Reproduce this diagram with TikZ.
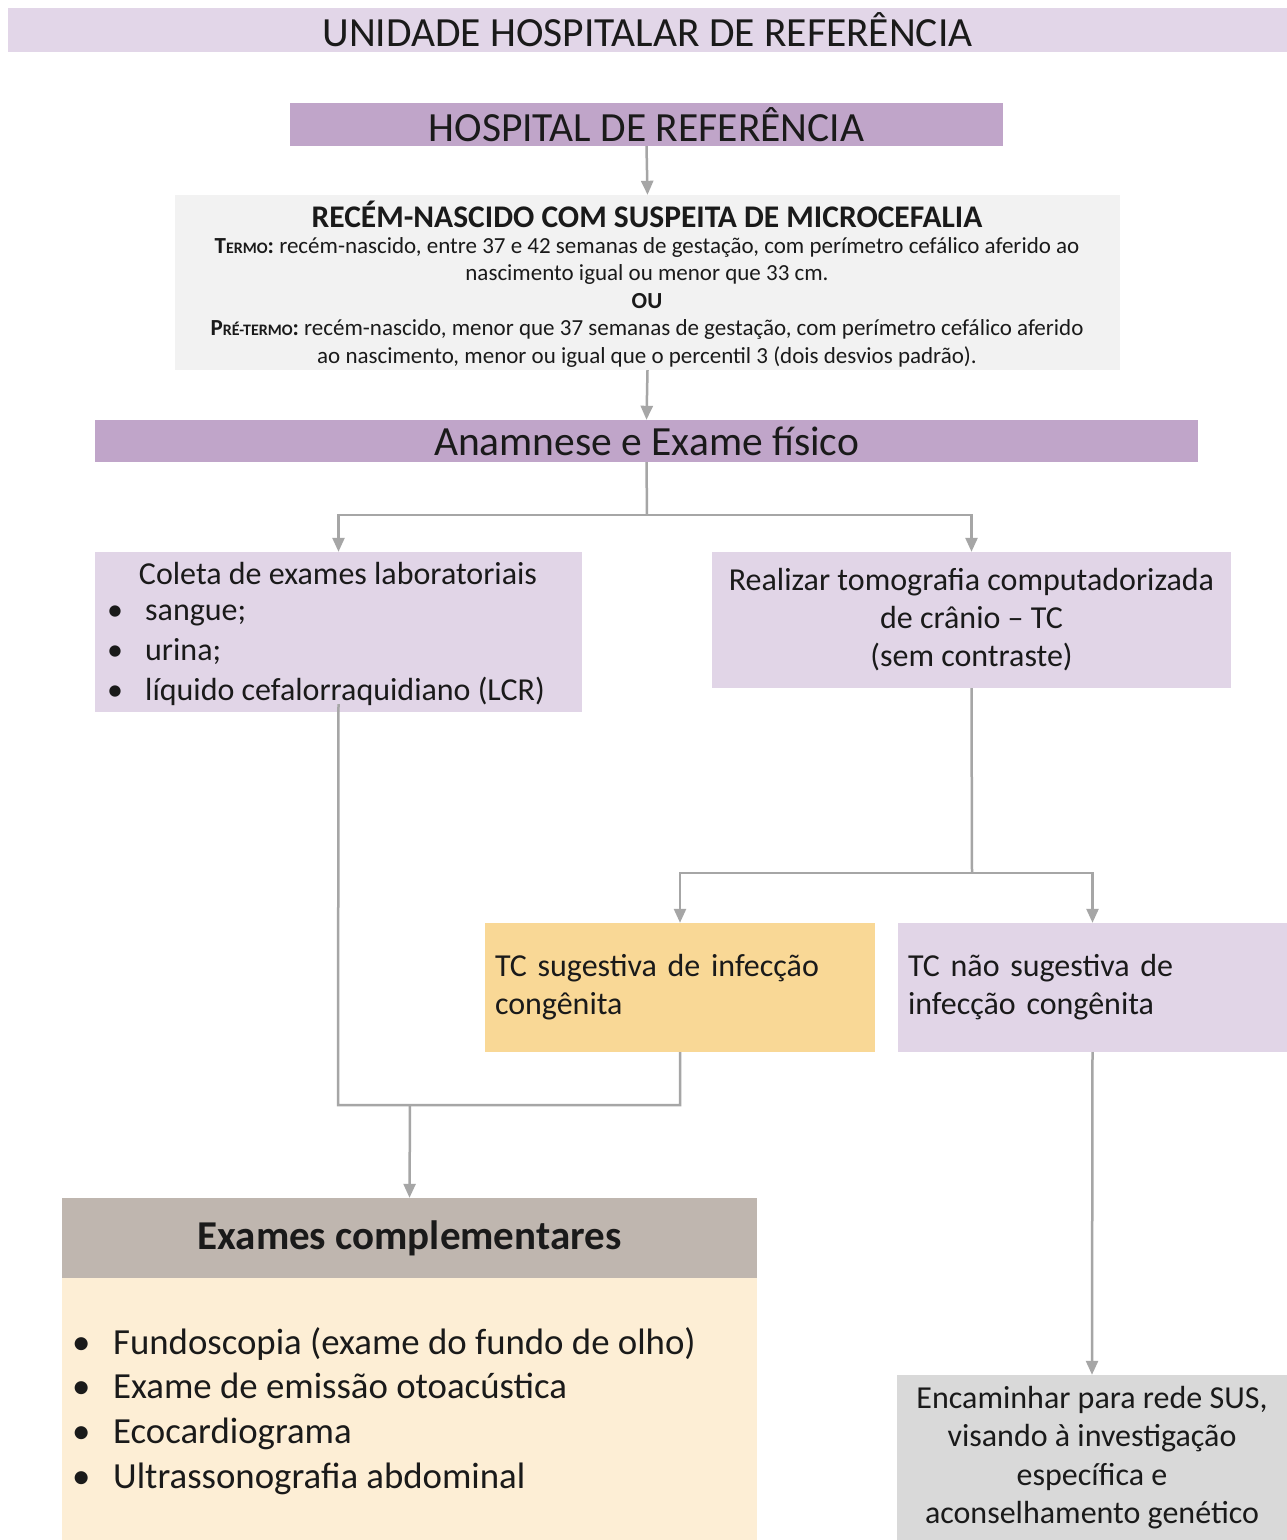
\documentclass[tikz,border=0pt]{standalone}
\usepackage{fontspec}
\setmainfont{Carlito}
\usetikzlibrary{arrows.meta}
\definecolor{bandlight}{HTML}{E2D6E8}
\definecolor{lilacdark}{HTML}{C0A5C9}
\definecolor{lilaclight}{HTML}{E1D5E7}
\definecolor{graylight}{HTML}{F2F2F2}
\definecolor{orangebox}{HTML}{F9D896}
\definecolor{taupe}{HTML}{BFB6AF}
\definecolor{cream}{HTML}{FDEED5}
\definecolor{graymid}{HTML}{D9D9D9}
\definecolor{linegray}{HTML}{A6A6A6}
\definecolor{ink}{HTML}{1A1A1A}
\newcommand\fsz[2]{\fontsize{#1}{#2}\selectfont}
\begin{document}
\begin{tikzpicture}[x=1pt,y=-1pt,
  box/.style={rectangle, inner sep=0pt, text=ink, align=center},
  txt/.style={inner sep=0pt, text=ink},
  conn/.style={draw=linegray, line width=2.5pt},
  arr/.style={conn, -{Triangle[length=14pt,width=12pt]}}]
\useasboundingbox (0,0) rectangle (1287,1540);
\fill[white] (0,0) rectangle (1287,1540);

% top band
\node[box, fill=bandlight, minimum width=1279, minimum height=44, font=\fsz{41.5}{49}]
  (band) at (647.5,30) {UNIDADE HOSPITALAR DE REFERÊNCIA};

% hospital
\node[box, fill=lilacdark, minimum width=713, minimum height=43, font=\fsz{41.5}{49}]
  (hosp) at (646.5,124.5) {HOSPITAL DE REFERÊNCIA};

% gray box
\node[box, fill=graylight, minimum width=945, minimum height=175] (grayb) at (647.5,282.5) {};
\node[txt, font=\bfseries\fsz{31.5}{36}] (grayt) at (647,214) {RECÉM-NASCIDO COM SUSPEITA DE MICROCEFALIA};
\node[txt, align=center, font=\fsz{23}{27.5}] (grayx) at (647,302) {%
\textbf{T{\fsz{16}{16}ERMO}:} recém-nascido, entre 37 e 42 semanas de gestação, com perímetro cefálico aferido ao\\
nascimento igual ou menor que 33 cm.\\
\textbf{OU}\\
\textbf{P{\fsz{16}{16}RÉ-TERMO}:} recém-nascido, menor que 37 semanas de gestação, com perímetro cefálico aferido\\
ao nascimento, menor ou igual que o percentil 3 (dois desvios padrão).};

% anamnese
\node[box, fill=lilacdark, minimum width=1103, minimum height=42, font=\fsz{41.5}{49}]
  (anam) at (646.5,441) {Anamnese e Exame físico};

% left box
\node[box, fill=lilaclight, minimum width=487, minimum height=160] (lab) at (338.5,632) {};
\node[txt, font=\fsz{32}{39}] (labt) at (338,573) {Coleta de exames laboratoriais};
\node[txt, anchor=west, align=left, font=\fsz{32}{40}] (labl) at (107,655) {%
\makebox[38pt][l]{\textbullet}sangue;\\
\makebox[38pt][l]{\textbullet}urina;\\
\makebox[38pt][l]{\textbullet}líquido cefalorraquidiano (LCR)};

% right box
\node[box, fill=lilaclight, minimum width=519, minimum height=136, font=\fsz{32}{38}]
  (tc) at (971.5,620) {\rule{0pt}{4pt}Realizar tomografia computadorizada\\de crânio – TC\\(sem contraste)};

% TC boxes
\node[box, fill=orangebox, minimum width=390, minimum height=129, text width=370, align=left, font=\fsz{32}{38}]
  (tcs) at (680,987.5) {TC sugestiva de infecção\\congênita};
\node[box, fill=lilaclight, minimum width=389, minimum height=129, text width=369, align=left, font=\fsz{32}{38}]
  (tcn) at (1092.5,987.5) {TC não sugestiva de\\infecção congênita};

% exames complementares
\node[box, fill=taupe, minimum width=695, minimum height=80, font=\bfseries\fsz{41}{48}]
  (exh) at (409.5,1238) {Exames complementares};
\node[box, fill=cream, minimum width=695, minimum height=262] (exb) at (409.5,1409) {};
\node[txt, anchor=west, align=left, font=\fsz{36.8}{44.7}] (exl) at (72,1411) {%
\makebox[41pt][l]{\textbullet}Fundoscopia (exame do fundo de olho)\\
\makebox[41pt][l]{\textbullet}Exame de emissão otoacústica\\
\makebox[41pt][l]{\textbullet}Ecocardiograma\\
\makebox[41pt][l]{\textbullet}Ultrassonografia abdominal};

% encaminhar
\node[box, fill=graymid, minimum width=390, minimum height=165, font=\fsz{32}{38.3}]
  (enc) at (1092,1457.5) {Encaminhar para rede SUS,\\visando à investigação\\específica e\\aconselhamento genético};

% junction coordinates
\coordinate (j1) at (647,515);
\coordinate (j2) at (972,873);
\coordinate (j3) at (338,1105);
\coordinate (j4) at (410,1105);

% connectors
\draw[arr] (hosp.south) -- (grayb.north);
\draw[arr] (grayb.south) -- (anam.north);
\draw[conn] (anam.south) -- (j1);
\draw[arr] (j1) -| (lab.north);
\draw[arr] (j1) -| (tc.north);
\draw[conn] (tc.south) -- (j2);
\draw[arr] (j2) -| (tcs.north);
\draw[arr] (j2) -| (tcn.north);
\draw[conn] ([yshift=8pt]lab.south) -- (j3) -| (tcs.south);
\draw[arr] (j4) -- (exh.north);
\draw[arr] (tcn.south) -- (enc.north);
\end{tikzpicture}
\end{document}
